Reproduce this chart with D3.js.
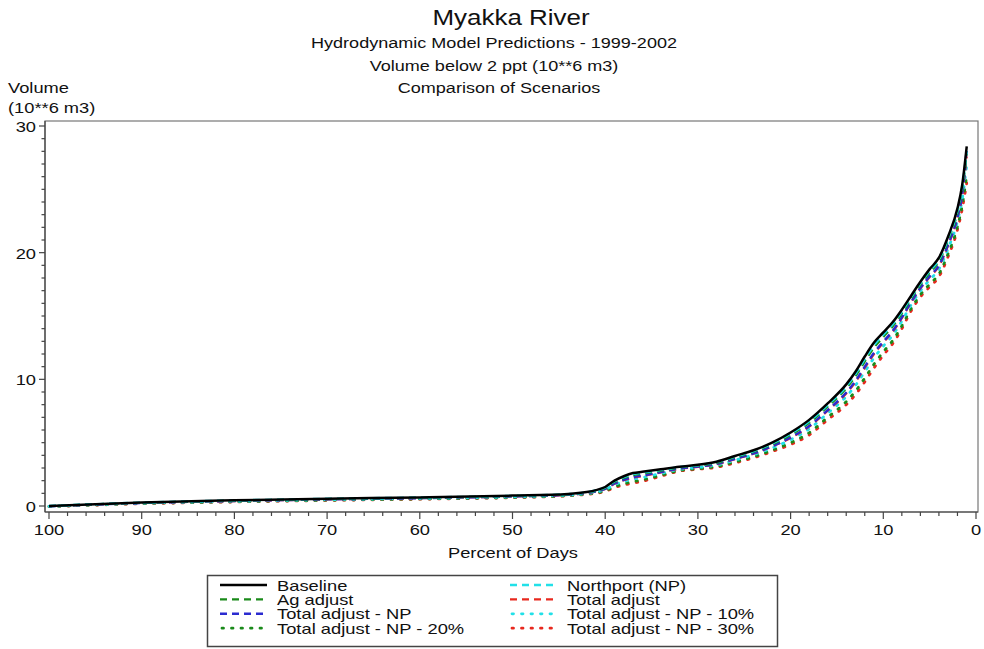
<!DOCTYPE html>
<html><head><meta charset="utf-8">
<script src="https://cdn.jsdelivr.net/npm/d3@7"></script>
<style>body{margin:0;background:#fff}svg{display:block}text{font-family:"Liberation Sans",Arial,sans-serif;fill:#111}</style>
</head><body><svg id="c" width="984" height="649"></svg>
<script>
const pct = [100,90,80,70,60,50,44,42,41,40,39,38,37,36,34,32,30,28,26,24,22,20,18,16,14,13,12,11,10,9,8,7,6,5,4,3,2,1.5,1];
const baseline = [0.00,0.28,0.45,0.58,0.68,0.82,0.95,1.10,1.25,1.50,2.00,2.35,2.60,2.70,2.90,3.10,3.25,3.50,3.95,4.40,5.00,5.80,6.80,8.10,9.60,10.6,11.8,12.9,13.7,14.5,15.5,16.6,17.7,18.7,19.6,21.3,23.5,25.3,28.4];
const northport = [0.00,0.27,0.44,0.57,0.67,0.80,0.94,1.08,1.23,1.47,1.95,2.28,2.52,2.63,2.85,3.07,3.22,3.46,3.90,4.34,4.93,5.71,6.68,7.97,9.44,10.42,11.60,12.70,13.52,14.33,15.35,16.48,17.58,18.56,19.45,21.14,23.33,25.11,28.0];
const agAdjust = [-0.01,0.26,0.42,0.55,0.65,0.79,0.92,1.06,1.20,1.43,1.89,2.21,2.44,2.55,2.79,3.03,3.18,3.41,3.84,4.28,4.86,5.61,6.56,7.84,9.28,10.24,11.40,12.50,13.34,14.16,15.20,16.36,17.46,18.42,19.30,20.98,23.16,24.92,27.8];
const totalAdjust = [-0.02,0.24,0.39,0.52,0.62,0.75,0.88,1.02,1.14,1.34,1.75,2.03,2.24,2.36,2.65,2.94,3.09,3.30,3.70,4.13,4.69,5.37,6.26,7.52,8.88,9.79,10.90,12.00,12.90,13.74,14.82,16.06,17.16,18.07,18.93,20.58,22.74,24.45,27.6];
const totalAdjNP = [-0.02,0.24,0.40,0.52,0.62,0.76,0.89,1.03,1.15,1.36,1.78,2.07,2.28,2.40,2.68,2.96,3.11,3.32,3.73,4.16,4.72,5.42,6.32,7.58,8.96,9.88,11.00,12.10,12.98,13.82,14.90,16.12,17.22,18.14,19.00,20.66,22.82,24.54,28.2];
const totalAdjNP10 = [-0.03,0.22,0.37,0.50,0.60,0.72,0.86,0.99,1.10,1.29,1.67,1.93,2.12,2.25,2.57,2.89,3.04,3.23,3.62,4.04,4.58,5.23,6.08,7.32,8.64,9.52,10.60,11.70,12.62,13.48,14.60,15.88,16.98,17.86,18.70,20.34,22.48,24.16,26.9];
const totalAdjNP20 = [-0.04,0.20,0.34,0.46,0.56,0.68,0.82,0.95,1.04,1.20,1.53,1.75,1.92,2.06,2.43,2.80,2.95,3.12,3.48,3.89,4.40,4.99,5.78,7.00,8.24,9.07,10.10,11.20,12.17,13.05,14.22,15.58,16.68,17.51,18.32,19.94,22.05,23.68,26.1];
const totalAdjNP30 = [-0.05,0.18,0.32,0.44,0.54,0.66,0.80,0.92,1.00,1.15,1.45,1.65,1.80,1.95,2.35,2.75,2.90,3.05,3.40,3.80,4.30,4.85,5.60,6.80,8.00,8.80,9.80,10.9,11.9,12.8,14.0,15.4,16.5,17.3,18.1,19.7,21.8,23.4,25.5];

const seriesNames = ["Baseline","Ag adjust","Total adjust - NP","Total adjust - NP - 20%","Northport (NP)","Total adjust","Total adjust - NP - 10%","Total adjust - NP - 30%"];
const seriesValues = [baseline,agAdjust,totalAdjNP,totalAdjNP20,northport,totalAdjust,totalAdjNP10,totalAdjNP30];
const xTicks = [100,90,80,70,60,50,40,30,20,10,0];
const yTicks = [0,10,20,30];
const titles = ["Myakka River","Hydrodynamic Model Predictions - 1999-2002","Volume below 2 ppt (10**6 m3)","Comparison of Scenarios"];
const yLabel = ["Volume","(10**6 m3)"];
const xLabel = "Percent of Days";

const DASH="7,5", DOT="1.5,8";
const styles = [
  {c:"#000000", d:null, w:2.5},
  {c:"#1a8a1a", d:DASH, w:2.2},
  {c:"#2b2bd0", d:DASH, w:2.4},
  {c:"#1a8a1a", d:DOT, w:2.8},
  {c:"#22e0e8", d:DASH, w:2.4},
  {c:"#e8281e", d:DASH, w:2.2},
  {c:"#22e0e8", d:DOT, w:2.8},
  {c:"#e8281e", d:DOT, w:2.8}
];
const drawOrder = [7,3,6,5,2,1,4,0];

const svg = d3.select("#c");
function txt(x,y,s,size,anchor,sx){
  const g = svg.append("g").attr("transform",`translate(${x},${y}) scale(${sx||1.18},1)`);
  g.append("text").attr("x",0).attr("y",0).attr("font-size",size).attr("text-anchor",anchor||"start").text(s);
}

const x = d3.scaleLinear().domain([100,0]).range([49,976]);
const y = d3.scaleLinear().domain([0,30]).range([506,126]);

const L=45,R=978,T=121,B=512;
svg.append("rect").attr("x",L).attr("y",T).attr("width",R-L).attr("height",B-T)
  .attr("fill","none").attr("stroke","#777").attr("stroke-width",1.2);

const line = d3.line().x((d,i)=>x(pct[i])).y(d=>y(d)).curve(d3.curveMonotoneX);
const plot = svg.append("g");
drawOrder.forEach(k=>{
  const s=styles[k];
  plot.append("path").datum(seriesValues[k]).attr("d",line).attr("fill","none")
    .attr("stroke",s.c).attr("stroke-width",s.w).attr("stroke-dasharray",s.d)
    .attr("stroke-linecap",s.d===DOT?"round":"butt").attr("stroke-linejoin","round");
});

const ax = svg.append("g").attr("stroke","#444").attr("stroke-width",1.2);
ax.append("line").attr("x1",L).attr("x2",L).attr("y1",T).attr("y2",B);
ax.append("line").attr("x1",L).attr("x2",R).attr("y1",B).attr("y2",B);
d3.range(0,31,1).forEach(v=>{
  const maj = v%10===0;
  ax.append("line").attr("x1",L).attr("x2",L-(maj?6:3.5)).attr("y1",y(v)).attr("y2",y(v));
});
d3.range(0,101,2).forEach(v=>{
  const maj = v%10===0;
  ax.append("line").attr("x1",x(v)).attr("x2",x(v)).attr("y1",B).attr("y2",B+(maj?7:4));
});
yTicks.forEach(v=>txt(36,y(v)+6,String(v),15.5,"end"));
xTicks.forEach(v=>txt(x(v),B+23,String(v),15.5,"middle"));
txt(513,B+46,xLabel,15.5,"middle");
txt(8,93,yLabel[0],15.5,"start");
txt(8,113,yLabel[1],15.5,"start");

txt(511,25,titles[0],22,"middle");
txt(494,48,titles[1],15.3,"middle");
txt(494,71,titles[2],15.3,"middle");
txt(499,93,titles[3],15.3,"middle");

const lg = svg.append("g");
lg.append("rect").attr("x",207.5).attr("y",575.5).attr("width",570).attr("height",71)
  .attr("fill","#fff").attr("stroke","#444").attr("stroke-width",1.5);
seriesNames.forEach((n,i)=>{
  const col = i<4?0:1, row=i%4;
  const lx = col===0?220:510, ty = 590 + row*14.4;
  const s=styles[i];
  lg.append("line").attr("x1",lx+(s.d===DOT?2:0)).attr("x2",lx+47).attr("y1",ty-5).attr("y2",ty-5)
    .attr("stroke",s.c).attr("stroke-width",s.w).attr("stroke-dasharray",s.d)
    .attr("stroke-linecap",s.d===DOT?"round":"butt");
  txt(lx+57,ty+0.5,n,13.8,"start",1.33);
});
</script></body></html>
